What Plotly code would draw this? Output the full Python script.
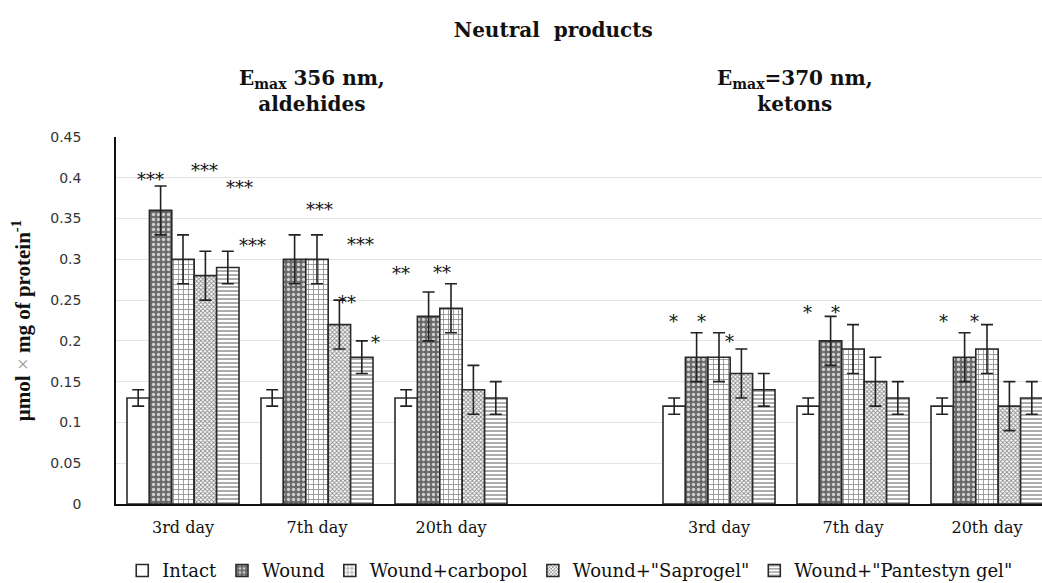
import plotly.graph_objects as go

# Category positions: two panels of three time points with one empty slot between them
days = ["3rd day", "7th day", "20th day", "3rd day", "7th day", "20th day"]
positions = [0, 1, 2, 4, 5, 6]

series_names = ["Intact", "Wound", "Wound+carbopol", "Wound+\"Saprogel\"", "Wound+\"Pantestyn gel\""]

intact = [0.13, 0.13, 0.13, 0.12, 0.12, 0.12]
wound = [0.36, 0.30, 0.23, 0.18, 0.20, 0.18]
carbopol = [0.30, 0.30, 0.24, 0.18, 0.19, 0.19]
saprogel = [0.28, 0.22, 0.14, 0.16, 0.15, 0.12]
pantestyn = [0.29, 0.18, 0.13, 0.14, 0.13, 0.13]

intact_err = [0.01, 0.01, 0.01, 0.01, 0.01, 0.01]
wound_err = [0.03, 0.03, 0.03, 0.03, 0.03, 0.03]
carbopol_err = [0.03, 0.03, 0.03, 0.03, 0.03, 0.03]
saprogel_err = [0.03, 0.03, 0.03, 0.03, 0.03, 0.03]
pantestyn_err = [0.02, 0.02, 0.02, 0.02, 0.02, 0.02]

y_ticks = [0, 0.05, 0.1, 0.15, 0.2, 0.25, 0.3, 0.35, 0.4, 0.45]
y_tick_text = ["0", "0.05", "0.1", "0.15", "0.2", "0.25", "0.3", "0.35", "0.4", "0.45"]

# Significance markers: (x position on the category axis, height, label)
sig_x = [-0.246, 0.164, 0.425, 0.522, 1.022, 1.328, 1.224, 1.440, 1.627, 1.933,
         3.664, 3.866, 4.075, 4.664, 4.873, 5.672, 5.910]
sig_y = [0.400, 0.411, 0.390, 0.320, 0.364, 0.321, 0.250, 0.201, 0.285, 0.286,
         0.226, 0.226, 0.202, 0.237, 0.237, 0.226, 0.226]
sig_text = ["***", "***", "***", "***", "***", "***", "**", "*", "**", "**",
            "*", "*", "*", "*", "*", "*", "*"]

values = [intact, wound, carbopol, saprogel, pantestyn]
errors = [intact_err, wound_err, carbopol_err, saprogel_err, pantestyn_err]

styles = [
    dict(color="white", pattern=dict(shape="")),
    dict(color="#6a6a6a", pattern=dict(shape=".", fgcolor="#d0d0d0", bgcolor="#6a6a6a",
                                       size=5, solidity=0.35, fillmode="replace")),
    dict(color="white", pattern=dict(shape="+", fgcolor="#8a8a8a", bgcolor="white",
                                     size=5, solidity=0.3, fillmode="replace")),
    dict(color="white", pattern=dict(shape="x", fgcolor="#8a8a8a", bgcolor="white",
                                     size=3, solidity=0.5, fillmode="replace")),
    dict(color="white", pattern=dict(shape="-", fgcolor="#8a8a8a", bgcolor="white",
                                     size=4, solidity=0.35, fillmode="replace")),
]

fig = go.Figure()
for name, vals, errs, st in zip(series_names, values, errors, styles):
    fig.add_trace(go.Bar(
        x=positions, y=vals, name=name,
        marker=dict(color=st["color"], pattern=st["pattern"],
                    line=dict(color="#2a2a2a", width=1.6)),
        error_y=dict(type="data", array=errs, visible=True,
                     color="#222222", thickness=1.6, width=6),
    ))

serif = "DejaVu Serif"

for sx, sy, st in zip(sig_x, sig_y, sig_text):
    fig.add_annotation(x=sx, y=sy, text=st, showarrow=False, xref="x", yref="y",
                       font=dict(family=serif, size=18, color="#111"),
                       xanchor="center", yanchor="middle", yshift=-2)

fig.add_annotation(x=0.212, y=1.125, xref="paper", yref="paper", showarrow=False,
                   text="E<sub>max</sub> 356 nm,<br>aldehides",
                   font=dict(family=serif, size=20, color="#111", weight="bold"),
                   xanchor="center", yanchor="middle")
fig.add_annotation(x=0.733, y=1.125, xref="paper", yref="paper", showarrow=False,
                   text="E<sub>max</sub>=370 nm,<br>ketons",
                   font=dict(family=serif, size=20, color="#111", weight="bold"),
                   xanchor="center", yanchor="middle")

fig.update_layout(
    width=1042, height=583,
    margin=dict(l=116, r=0, t=137, b=79, autoexpand=False),
    paper_bgcolor="white", plot_bgcolor="white",
    barmode="group", bargap=0.164, bargroupgap=0,
    title=dict(text="Neutral\u00a0\u00a0products", x=0.531, xref="container",
               y=0.948, yref="container", xanchor="center", yanchor="middle",
               font=dict(family=serif, size=20, color="#111", weight="bold")),
    xaxis=dict(range=[-0.5, -0.5 + 926 / 134], tickmode="array",
               tickvals=positions, ticktext=days, showgrid=False,
               showline=True, linecolor="#111", linewidth=1.5, ticks="",
               ticklabelstandoff=8,
               tickfont=dict(family=serif, size=16, color="#111"), zeroline=False),
    yaxis=dict(range=[0, 0.45], tickmode="array", tickvals=y_ticks, ticktext=y_tick_text,
               showgrid=True, gridcolor="#e4e4e4", gridwidth=1,
               showline=True, linecolor="#111", linewidth=1.5, ticks="",
               ticklabelstandoff=30, zeroline=False,
               tickfont=dict(family="DejaVu Sans", size=14, color="#333"),
               title=dict(text="μmol <span style=\"color:#999;font-weight:normal\">×</span> mg of protein<sup>-1</sup>",
                          standoff=14,
                          font=dict(family="Liberation Serif", size=21, color="#111", weight="bold"))),
    legend=dict(orientation="h", x=0.49, xanchor="center",
                yref="container", y=0.021, yanchor="middle",
                font=dict(family=serif, size=18, color="#111"),
                itemwidth=30, traceorder="normal"),
    showlegend=True,
)

fig.write_html("out.html")
